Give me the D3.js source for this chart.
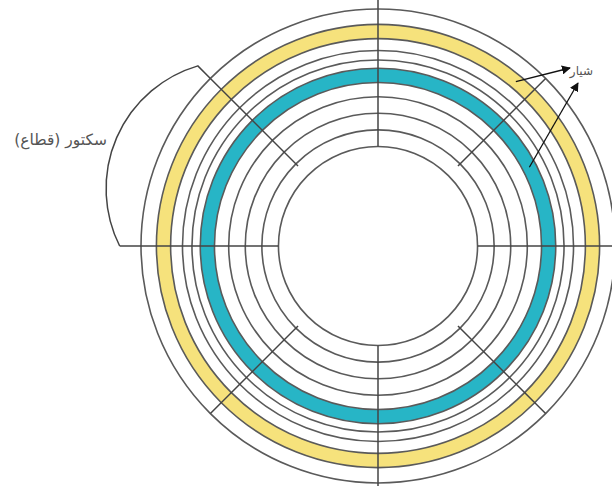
<!DOCTYPE html>
<html>
<head>
<meta charset="utf-8">
<script src="https://cdn.jsdelivr.net/npm/d3@7"></script>
<style>
  html, body { margin: 0; padding: 0; background: #fff; }
  svg { display: block; }
</style>
</head>
<body>
<div id="disk"></div>
<script>
// track boundaries, as a fraction of the disk's outer radius
const trackEdges = [0.42, 0.49, 0.56, 0.63, 0.69, 0.75, 0.785, 0.825, 0.875, 0.935, 1.0];
// tracks that are shaded (index of their inner edge)
const shadedTracks = [8, 4];
const sectorAngles = [0, 45, 90, 135, 180, 225, 270, 315];
const trackLabel = 'شیار';
const sectorLabel = 'سکتور (قطاع)';

const WIDTH = 612;
const HEIGHT = 486;
const CX = 378;
const CY = 246;
const OUTER_R = 237;
const LINE_COLOR = '#5a5a5a';
const TRACK_COLORS = { 8: '#f6e27c', 4: '#27b5c6' };

const r = d3.scaleLinear().domain([0, 1]).range([0, OUTER_R]);
const rad = (deg) => deg * Math.PI / 180;

const svg = d3.select('#disk').append('svg')
  .attr('width', WIDTH)
  .attr('height', HEIGHT);

svg.append('defs').append('marker')
  .attr('id', 'head')
  .attr('viewBox', '0 0 10 10')
  .attr('refX', 9)
  .attr('refY', 5)
  .attr('markerWidth', 9)
  .attr('markerHeight', 9)
  .attr('markerUnits', 'userSpaceOnUse')
  .attr('orient', 'auto')
  .append('path')
  .attr('d', 'M0,0L10,5L0,10Z')
  .attr('fill', '#111');

const g = svg.append('g')
  .attr('transform', `translate(${CX},${CY})`);

// shaded tracks
const ring = d3.arc().startAngle(0).endAngle(2 * Math.PI);
g.selectAll('.track-fill')
  .data(shadedTracks)
  .enter().append('path')
  .attr('class', 'track-fill')
  .attr('d', (i) => ring({ innerRadius: r(trackEdges[i]), outerRadius: r(trackEdges[i + 1]) }))
  .attr('fill', (i) => TRACK_COLORS[i]);

// track circles
g.selectAll('.edge')
  .data(trackEdges)
  .enter().append('circle')
  .attr('class', 'edge')
  .attr('r', (d) => r(d))
  .attr('fill', 'none')
  .attr('stroke', LINE_COLOR)
  .attr('stroke-width', 1.6);

// sector lines: the cardinal ones reach the inner circle and run past the rim
g.selectAll('.sector')
  .data(sectorAngles)
  .enter().append('line')
  .attr('class', 'sector')
  .each(function (a) {
    let cardinal = a % 90 == 0;
    let inner = cardinal ? r(trackEdges[0]) : r(trackEdges[1]) - 3;
    let outer = cardinal ? (a == 270 ? r(1.09) : r(1.06)) : r(1);
    let p0 = d3.pointRadial(rad(a), inner);
    let p1 = d3.pointRadial(rad(a), outer);
    d3.select(this)
      .attr('x1', p0[0]).attr('y1', p0[1])
      .attr('x2', p1[0]).attr('y2', p1[1]);
  })
  .attr('stroke', '#444')
  .attr('stroke-width', 1.5);

// sector brace between 270 and 315 degrees
let braceTop = d3.pointRadial(rad(315), r(1.075));
let braceTick = d3.pointRadial(rad(315), r(1.0));
let braceBottom = d3.pointRadial(rad(270), r(1.09));
g.append('path')
  .attr('d', `M${braceTick[0]},${braceTick[1]}L${braceTop[0]},${braceTop[1]}`
    + `A128,128 0 0 0 ${braceBottom[0]},${braceBottom[1]}`)
  .attr('fill', 'none')
  .attr('stroke', '#444')
  .attr('stroke-width', 1.5);

svg.append('text')
  .attr('x', 107)
  .attr('y', 145)
  .attr('direction', 'rtl')
  .attr('text-anchor', 'start')
  .attr('font-family', 'DejaVu Sans')
  .attr('font-size', 15.5)
  .attr('fill', '#555')
  .text(sectorLabel);

svg.append('text')
  .attr('x', 593)
  .attr('y', 75)
  .attr('direction', 'rtl')
  .attr('text-anchor', 'start')
  .attr('font-family', 'DejaVu Sans')
  .attr('font-size', 12)
  .attr('fill', '#555')
  .text(trackLabel);

// arrows from the shaded tracks to the label
const arrows = [
  { edge: 8, angle: 40, to: [570, 68] },
  { edge: 4, angle: 62.5, to: [578, 83] },
];
svg.selectAll('.arrow')
  .data(arrows)
  .enter().append('line')
  .attr('class', 'arrow')
  .each(function (d) {
    let mid = (r(trackEdges[d.edge]) + r(trackEdges[d.edge + 1])) / 2;
    let p = d3.pointRadial(rad(d.angle), mid);
    d3.select(this)
      .attr('x1', CX + p[0]).attr('y1', CY + p[1])
      .attr('x2', d.to[0]).attr('y2', d.to[1]);
  })
  .attr('stroke', '#111')
  .attr('stroke-width', 1.3)
  .attr('marker-end', 'url(#head)');
</script>
</body>
</html>
